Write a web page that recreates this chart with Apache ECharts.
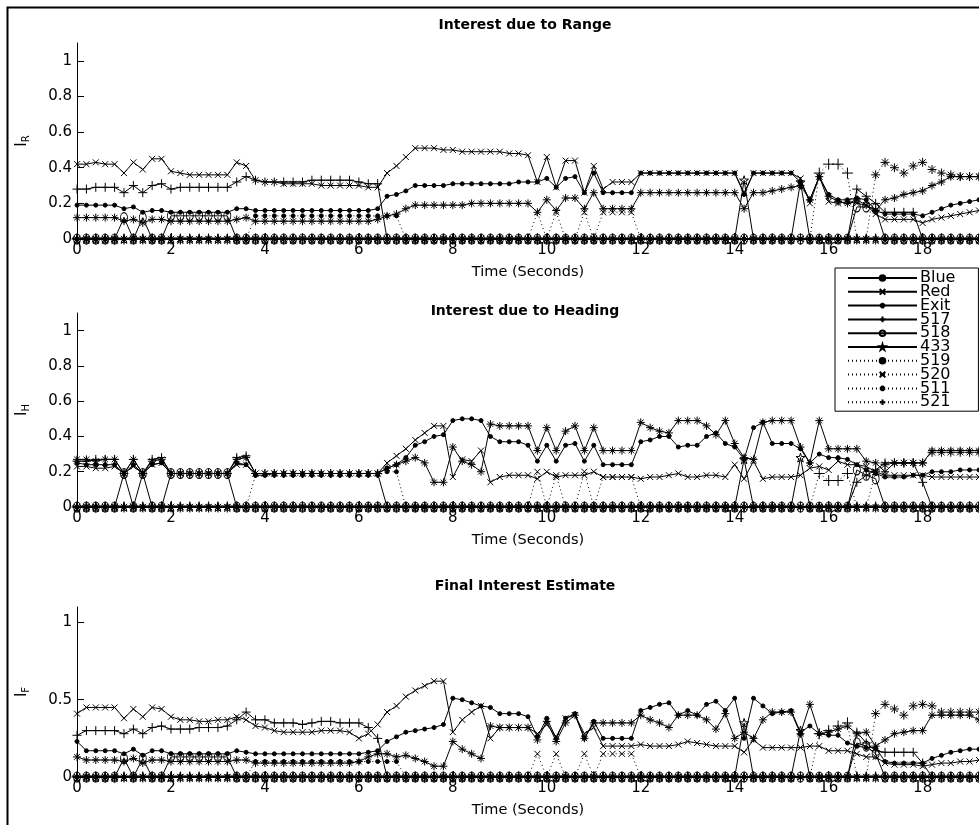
<!DOCTYPE html>
<html><head><meta charset="utf-8">
<script src="https://cdn.jsdelivr.net/npm/echarts@6/dist/echarts.min.js"></script>
<style>html,body{margin:0;padding:0;background:#fff}#c{width:979px;height:825px}</style>
</head><body><div id="c"></div>
<script>
// ---------- DATA ----------
const times = [0,0.2,0.4,0.6,0.8,1,1.2,1.4,1.6,1.8,2,2.2,2.4,2.6,2.8,3,3.2,3.4,3.6,3.8,4,4.2,4.4,4.6,4.8,5,5.2,5.4,5.6,5.8,6,6.2,6.4,6.6,6.8,7,7.2,7.4,7.6,7.8,8,8.2,8.4,8.6,8.8,9,9.2,9.4,9.6,9.8,10,10.2,10.4,10.6,10.8,11,11.2,11.4,11.6,11.8,12,12.2,12.4,12.6,12.8,13,13.2,13.4,13.6,13.8,14,14.2,14.4,14.6,14.8,15,15.2,15.4,15.6,15.8,16,16.2,16.4,16.6,16.8,17,17.2,17.4,17.6,17.8,18,18.2,18.4,18.6,18.8,19,19.2];
const seriesNames = ['Blue','Red','Exit','517','518','433','519','520','511','521'];
const panelTitles = ['Interest due to Range','Interest due to Heading','Final Interest Estimate'];
const xAxisName = 'Time (Seconds)';
const ySubscripts = ['R','H','F'];
const xTicks = [0,2,4,6,8,10,12,14,16,18];
const yTicksTop = [0,0.2,0.4,0.6,0.8,1];
const yTicksBottom = [0,0.5,1];

// Panel 1: Interest due to Range
const rangeBlue = [
.19,.19,.19,.19,.19,.17,.18,.15,.16,.16,
.15,.15,.15,.15,.15,.15,.15,.17,.17,.16,
.16,.16,.16,.16,.16,.16,.16,.16,.16,.16,
.16,.16,.17,.24,.25,.27,.30,.30,.30,.30,
.31,.31,.31,.31,.31,.31,.31,.32,.32,.32,
.34,.29,.34,.35,.26,.37,.26,.26,.26,.26,
.37,.37,.37,.37,.37,.37,.37,.37,.37,.37,
.37,.25,.37,.37,.37,.37,.37,.32,.22,.35,
.25,.22,.22,.23,.22,.16,.14,.14,.14,.14,
.13,.15,.17,.19,.20,.21,.22];
const rangeRed = [
.42,.42,.43,.42,.42,.37,.43,.39,.45,.45,
.38,.37,.36,.36,.36,.36,.36,.43,.41,.33,
.32,.32,.31,.31,.31,.31,.30,.30,.30,.30,
.30,.29,.29,.37,.41,.46,.51,.51,.51,.50,
.50,.49,.49,.49,.49,.49,.48,.48,.47,.32,
.46,.29,.44,.44,.26,.41,.28,.32,.32,.32,
.37,.37,.37,.37,.37,.37,.37,.37,.37,.37,
.37,.26,.37,.37,.37,.37,.37,.34,.20,.35,
.21,.20,.21,.20,.19,.14,.11,.11,.11,.11,
.09,.11,.12,.13,.14,.15,.16];
const rangeExit = [
.12,.12,.12,.12,.12,.10,.11,.09,.11,.11,
.10,.10,.10,.10,.10,.10,.10,.11,.12,.10,
.10,.10,.10,.10,.10,.10,.10,.10,.10,.10,
.10,.10,.11,.13,.14,.17,.19,.19,.19,.19,
.19,.19,.20,.20,.20,.20,.20,.20,.20,.15,
.22,.16,.23,.23,.17,.26,.17,.17,.17,.17,
.26,.26,.26,.26,.26,.26,.26,.26,.26,.26,
.26,.17,.26,.26,.27,.28,.29,.30,.22,.35,
.24,.21,.20,.22,.19,.16,.22,.23,.25,.26,
.27,.30,.32,.35,.35,.35,.35];
const range517 = [
.28,.28,.29,.29,.29,.26,.30,.26,.30,.31,
.28,.29,.29,.29,.29,.29,.29,.32,.35,.33,
.32,.32,.32,.32,.32,.33,.33,.33,.33,.33,
.32,.31,.31,0,0,0,0,0,0,0,
0,0,0,0,0,0,0,0,0,0,
0,0,0,0,0,0,0,0,0,0,
0,0,0,0,0,0,0,0,0,0,
0,0,0,0,0,0,0,0,0,0,
0,0,0,.28,.24,.20,.15,.15,.15,.15,
0,0,0,0,0,0,0];
const range518 = [
0,0,0,0,0,.12,0,.12,0,0,
.13,.13,.13,.13,.13,.13,.13,0,0,0,
0,0,0,0,0,0,0,0,0,0,
0,0,0,0,0,0,0,0,0,0,
0,0,0,0,0,0,0,0,0,0,
0,0,0,0,0,0,0,0,0,0,
0,0,0,0,0,0,0,0,0,0,
0,0,0,0,0,0,0,0,0,0,
0,0,0,.18,.18,.17,0,0,0,0,
0,0,0,0,0,0,0];
const range433 = [
0,0,0,0,0,0,0,0,0,0,
0,0,0,0,0,0,0,0,0,0,
0,0,0,0,0,0,0,0,0,0,
0,0,0,0,0,0,0,0,0,0,
0,0,0,0,0,0,0,0,0,0,
0,0,0,0,0,0,0,0,0,0,
0,0,0,0,0,0,0,0,0,0,
0,.33,0,0,0,0,0,.32,0,0,
0,0,0,0,0,0,0,0,0,0,
0,0,0,0,0,0,0];
const range519 = [
0,0,0,0,0,0,0,0,0,0,
0,0,0,0,0,0,0,0,0,.13,
.13,.13,.13,.13,.13,.13,.13,.13,.13,.13,
.13,.13,.13,.13,.13,0,0,0,0,0,
0,0,0,0,0,0,0,0,0,0,
0,0,0,0,0,0,0,0,0,0,
0,0,0,0,0,0,0,0,0,0,
0,0,0,0,0,0,0,0,0,0,
0,0,0,0,0,0,0,0,0,0,
0,0,0,0,0,0,0];
const range520 = [
0,0,0,0,0,0,0,0,0,0,
0,0,0,0,0,0,0,0,0,0,
0,0,0,0,0,0,0,0,0,0,
0,0,0,0,0,0,0,0,0,0,
0,0,0,0,0,0,0,0,0,.15,
0,.15,0,0,.15,0,.15,.15,.15,.15,
0,0,0,0,0,0,0,0,0,0,
0,0,0,0,0,0,0,0,0,0,
0,0,0,0,0,0,0,0,0,0,
0,0,0,0,0,0,0];
const range511 = [
0,0,0,0,0,0,0,0,0,0,
0,0,0,0,0,0,0,0,0,0,
0,0,0,0,0,0,0,0,0,0,
0,0,0,0,0,0,0,0,0,0,
0,0,0,0,0,0,0,0,0,0,
0,0,0,0,0,0,0,0,0,0,
0,0,0,0,0,0,0,0,0,0,
0,0,0,0,0,0,0,0,0,0,
0,0,0,0,0,.36,.43,.40,.37,.41,
.43,.39,.37,.36,.35,.35,.35];
const range521 = [
0,0,0,0,0,0,0,0,0,0,
0,0,0,0,0,0,0,0,0,0,
0,0,0,0,0,0,0,0,0,0,
0,0,0,0,0,0,0,0,0,0,
0,0,0,0,0,0,0,0,0,0,
0,0,0,0,0,0,0,0,0,0,
0,0,0,0,0,0,0,0,0,0,
0,0,0,0,0,0,0,0,0,.37,
.42,.42,.37,0,0,0,0,0,0,0,
0,0,0,0,0,0,0];

// Panel 2: Interest due to Heading
const headBlue = [
.25,.24,.24,.24,.24,.19,.24,.19,.24,.25,
.19,.19,.19,.19,.19,.19,.19,.25,.24,.18,
.18,.19,.19,.19,.19,.19,.19,.19,.19,.19,
.19,.19,.19,.22,.24,.28,.35,.37,.40,.41,
.49,.50,.50,.49,.40,.37,.37,.37,.35,.26,
.35,.26,.35,.36,.26,.35,.24,.24,.24,.24,
.37,.38,.40,.40,.34,.35,.35,.40,.42,.36,
.34,.27,.45,.48,.36,.36,.36,.33,.25,.30,
.28,.28,.27,.24,.21,.19,.17,.17,.17,.18,
.18,.20,.20,.20,.21,.21,.21];
const headRed = [
.23,.23,.22,.22,.23,.19,.23,.19,.24,.25,
.19,.19,.19,.19,.19,.19,.19,.24,.24,.19,
.19,.19,.19,.19,.19,.19,.19,.19,.19,.19,
.19,.19,.19,.25,.29,.33,.38,.42,.46,.46,
.17,.27,.26,.32,.14,.17,.18,.18,.18,.16,
.20,.17,.18,.18,.18,.20,.17,.17,.17,.17,
.16,.17,.17,.18,.19,.17,.17,.18,.18,.17,
.24,.16,.26,.16,.17,.17,.17,.18,.22,.23,
.21,.26,.24,.24,.23,.20,.18,.18,.18,.18,
.18,.17,.17,.17,.17,.17,.17];
const headExit = [
.27,.27,.26,.27,.27,.19,.27,.19,.26,.27,
.19,.19,.19,.19,.19,.19,.19,.27,.28,.19,
.19,.19,.19,.19,.19,.19,.19,.19,.19,.19,
.19,.19,.19,.22,.24,.26,.28,.25,.14,.14,
.34,.26,.24,.20,.47,.46,.46,.46,.46,.32,
.45,.32,.43,.46,.32,.45,.32,.32,.32,.32,
.48,.45,.43,.42,.49,.49,.49,.46,.41,.49,
.36,.28,.27,.48,.49,.49,.49,.34,.25,.49,
.33,.33,.33,.33,.26,.25,.20,.25,.25,.25,
.25,.32,.32,.32,.32,.32,.32];
const head517 = [
.26,.26,.27,.27,.27,.19,.27,.19,.27,.28,
.19,.19,.19,.19,.19,.19,.19,.28,.29,.19,
.19,.19,.19,.19,.19,.19,.19,.19,.19,.19,
.19,.19,.19,0,0,0,0,0,0,0,
0,0,0,0,0,0,0,0,0,0,
0,0,0,0,0,0,0,0,0,0,
0,0,0,0,0,0,0,0,0,0,
0,0,0,0,0,0,0,0,0,0,
0,0,0,.14,.18,.21,.25,.25,.25,.25,
.14,0,0,0,0,0,0];
const head518 = [
0,0,0,0,0,.19,0,.19,0,0,
.19,.19,.19,.19,.19,.19,.19,0,0,0,
0,0,0,0,0,0,0,0,0,0,
0,0,0,0,0,0,0,0,0,0,
0,0,0,0,0,0,0,0,0,0,
0,0,0,0,0,0,0,0,0,0,
0,0,0,0,0,0,0,0,0,0,
0,0,0,0,0,0,0,0,0,0,
0,0,0,.21,.18,.16,0,0,0,0,
0,0,0,0,0,0,0];
const head433 = [
0,0,0,0,0,0,0,0,0,0,
0,0,0,0,0,0,0,0,0,0,
0,0,0,0,0,0,0,0,0,0,
0,0,0,0,0,0,0,0,0,0,
0,0,0,0,0,0,0,0,0,0,
0,0,0,0,0,0,0,0,0,0,
0,0,0,0,0,0,0,0,0,0,
0,.27,0,0,0,0,0,.28,0,0,
0,0,0,0,0,0,0,0,0,0,
0,0,0,0,0,0,0];
const head519 = [
0,0,0,0,0,0,0,0,0,0,
0,0,0,0,0,0,0,0,0,.18,
.18,.18,.18,.18,.18,.18,.18,.18,.18,.18,
.18,.18,.18,.20,.20,0,0,0,0,0,
0,0,0,0,0,0,0,0,0,0,
0,0,0,0,0,0,0,0,0,0,
0,0,0,0,0,0,0,0,0,0,
0,0,0,0,0,0,0,0,0,0,
0,0,0,0,0,0,0,0,0,0,
0,0,0,0,0,0,0];
const head520 = [
0,0,0,0,0,0,0,0,0,0,
0,0,0,0,0,0,0,0,0,0,
0,0,0,0,0,0,0,0,0,0,
0,0,0,0,0,0,0,0,0,0,
0,0,0,0,0,0,0,0,0,.20,
0,.18,0,0,.20,0,.17,.17,.17,.17,
0,0,0,0,0,0,0,0,0,0,
0,0,0,0,0,0,0,0,0,0,
0,0,0,0,0,0,0,0,0,0,
0,0,0,0,0,0,0];
const head511 = [
0,0,0,0,0,0,0,0,0,0,
0,0,0,0,0,0,0,0,0,0,
0,0,0,0,0,0,0,0,0,0,
0,0,0,0,0,0,0,0,0,0,
0,0,0,0,0,0,0,0,0,0,
0,0,0,0,0,0,0,0,0,0,
0,0,0,0,0,0,0,0,0,0,
0,0,0,0,0,0,0,0,0,0,
0,0,0,0,0,.20,.24,.25,.25,.25,
.25,.31,.31,.31,.31,.31,.31];
const head521 = [
0,0,0,0,0,0,0,0,0,0,
0,0,0,0,0,0,0,0,0,0,
0,0,0,0,0,0,0,0,0,0,
0,0,0,0,0,0,0,0,0,0,
0,0,0,0,0,0,0,0,0,0,
0,0,0,0,0,0,0,0,0,0,
0,0,0,0,0,0,0,0,0,0,
0,0,0,0,0,0,0,0,0,.19,
.15,.15,.19,0,0,0,0,0,0,0,
0,0,0,0,0,0,0];

// Panel 3: Final Interest Estimate
const finalBlue = [
.23,.17,.17,.17,.17,.15,.18,.14,.17,.17,
.15,.15,.15,.15,.15,.15,.15,.17,.16,.15,
.15,.15,.15,.15,.15,.15,.15,.15,.15,.15,
.15,.16,.17,.23,.26,.29,.30,.31,.32,.34,
.51,.50,.48,.46,.45,.41,.41,.41,.39,.26,
.38,.25,.38,.41,.25,.36,.25,.25,.25,.25,
.43,.45,.47,.48,.40,.43,.40,.47,.49,.43,
.51,.25,.51,.46,.41,.42,.43,.29,.33,.28,
.27,.27,.22,.20,.19,.19,.10,.09,.09,.09,
.09,.12,.14,.16,.17,.18,.18];
const finalRed = [
.41,.45,.45,.45,.45,.38,.44,.39,.45,.44,
.39,.37,.37,.36,.36,.37,.37,.39,.37,.33,
.32,.30,.29,.29,.29,.29,.30,.30,.30,.29,
.25,.28,.34,.42,.46,.52,.56,.59,.62,.62,
.29,.37,.42,.46,.25,.32,.32,.32,.32,.28,
.34,.26,.38,.40,.28,.32,.20,.20,.20,.20,
.21,.20,.20,.20,.21,.23,.22,.21,.20,.20,
.20,.16,.24,.19,.19,.19,.19,.19,.20,.20,
.17,.17,.17,.15,.13,.13,.09,.08,.08,.08,
.07,.08,.09,.09,.10,.10,.11];
const finalExit = [
.13,.11,.11,.11,.11,.10,.12,.09,.11,.11,
.10,.10,.10,.10,.10,.10,.10,.11,.11,.09,
.09,.09,.09,.09,.09,.09,.09,.09,.09,.09,
.10,.13,.15,.15,.13,.14,.12,.10,.07,.07,
.23,.18,.15,.12,.33,.32,.32,.32,.32,.24,
.36,.23,.35,.40,.25,.35,.35,.35,.35,.35,
.40,.37,.35,.32,.40,.40,.40,.37,.31,.41,
.25,.29,.25,.37,.42,.42,.42,.28,.47,.28,
.29,.31,.33,.28,.29,.20,.24,.28,.29,.30,
.30,.40,.40,.40,.40,.40,.37];
const final517 = [
.27,.30,.30,.30,.30,.28,.31,.28,.32,.33,
.31,.31,.31,.32,.32,.32,.33,.37,.42,.37,
.37,.35,.35,.35,.34,.35,.36,.36,.35,.35,
.35,.32,.25,0,0,0,0,0,0,0,
0,0,0,0,0,0,0,0,0,0,
0,0,0,0,0,0,0,0,0,0,
0,0,0,0,0,0,0,0,0,0,
0,0,0,0,0,0,0,0,0,0,
0,0,0,.29,.22,.17,.16,.16,.16,.16,
.09,0,0,0,0,0,0];
const final518 = [
0,0,0,0,0,.12,0,.12,0,0,
.13,.13,.13,.13,.13,.13,.13,0,0,0,
0,0,0,0,0,0,0,0,0,0,
0,0,0,0,0,0,0,0,0,0,
0,0,0,0,0,0,0,0,0,0,
0,0,0,0,0,0,0,0,0,0,
0,0,0,0,0,0,0,0,0,0,
0,0,0,0,0,0,0,0,0,0,
0,0,0,.22,.20,.15,0,0,0,0,
0,0,0,0,0,0,0];
const final433 = [
0,0,0,0,0,0,0,0,0,0,
0,0,0,0,0,0,0,0,0,0,
0,0,0,0,0,0,0,0,0,0,
0,0,0,0,0,0,0,0,0,0,
0,0,0,0,0,0,0,0,0,0,
0,0,0,0,0,0,0,0,0,0,
0,0,0,0,0,0,0,0,0,0,
0,.35,0,0,0,0,0,.30,0,0,
0,0,0,0,0,0,0,0,0,0,
0,0,0,0,0,0,0];
const final519 = [
0,0,0,0,0,0,0,0,0,0,
0,0,0,0,0,0,0,0,0,.10,
.10,.10,.10,.10,.10,.10,.10,.10,.10,.10,
.10,.10,.10,.10,.10,0,0,0,0,0,
0,0,0,0,0,0,0,0,0,0,
0,0,0,0,0,0,0,0,0,0,
0,0,0,0,0,0,0,0,0,0,
0,0,0,0,0,0,0,0,0,0,
0,0,0,0,0,0,0,0,0,0,
0,0,0,0,0,0,0];
const final520 = [
0,0,0,0,0,0,0,0,0,0,
0,0,0,0,0,0,0,0,0,0,
0,0,0,0,0,0,0,0,0,0,
0,0,0,0,0,0,0,0,0,0,
0,0,0,0,0,0,0,0,0,.15,
0,.15,0,0,.15,0,.15,.15,.15,.15,
0,0,0,0,0,0,0,0,0,0,
0,0,0,0,0,0,0,0,0,0,
0,0,0,0,0,0,0,0,0,0,
0,0,0,0,0,0,0];
const final511 = [
0,0,0,0,0,0,0,0,0,0,
0,0,0,0,0,0,0,0,0,0,
0,0,0,0,0,0,0,0,0,0,
0,0,0,0,0,0,0,0,0,0,
0,0,0,0,0,0,0,0,0,0,
0,0,0,0,0,0,0,0,0,0,
0,0,0,0,0,0,0,0,0,0,
0,0,0,0,0,0,0,0,0,0,
0,0,0,0,0,.41,.47,.44,.40,.46,
.47,.46,.42,.42,.42,.42,.42];
const final521 = [
0,0,0,0,0,0,0,0,0,0,
0,0,0,0,0,0,0,0,0,0,
0,0,0,0,0,0,0,0,0,0,
0,0,0,0,0,0,0,0,0,0,
0,0,0,0,0,0,0,0,0,0,
0,0,0,0,0,0,0,0,0,0,
0,0,0,0,0,0,0,0,0,0,
0,0,0,0,0,0,0,0,0,.28,
.30,.33,.35,0,0,0,0,0,0,0,
0,0,0,0,0,0,0];

const panelData = [
  [rangeBlue, rangeRed, rangeExit, range517, range518, range433, range519, range520, range511, range521],
  [headBlue, headRed, headExit, head517, head518, head433, head519, head520, head511, head521],
  [finalBlue, finalRed, finalExit, final517, final518, final433, final519, final520, final511, final521]
];

// ---------- STYLE ----------
const FONT = 'DejaVu Sans';
const P_X = 'path://M0,0L10,10M10,0L0,10';
const P_PLUS = 'path://M5,0L5,10M0,5L10,5';
const P_STAR = 'path://M5,0L5,10M0,5L10,5M1.5,1.5L8.5,8.5M8.5,1.5L1.5,8.5';
const P_PENT = 'path://M5,0L6.12,3.46L9.76,3.45L6.81,5.59L7.94,9.05L5,6.9L2.06,9.05L3.19,5.59L0.24,3.45L3.88,3.46Z';
const P_OVAL = 'path://M5,0C7.8,0 10,2.2 10,5C10,7.8 7.8,10 5,10C2.2,10 0,7.8 0,5C0,2.2 2.2,0 5,0Z';
const DOT = [1, 3];
const marker = [
  {symbol:'circle', size:4, dash:'solid', fill:'#000'},
  {symbol:P_X, size:6, dash:'solid', fill:'#000'},
  {symbol:P_STAR, size:8, dash:'solid', fill:'#000'},
  {symbol:P_PLUS, size:9, dash:'solid', fill:'#000'},
  {symbol:P_OVAL, size:[7,10], dash:'solid', fill:'none'},
  {symbol:P_PENT, size:9, dash:'solid', fill:'none'},
  {symbol:'circle', size:4, dash:DOT, fill:'#000'},
  {symbol:P_X, size:6, dash:DOT, fill:'#000'},
  {symbol:P_STAR, size:9, dash:DOT, fill:'#000'},
  {symbol:P_PLUS, size:11, dash:DOT, fill:'#000'}
];

const grids = [
  {left:77, right:0, top:43, height:196},
  {left:77, right:0, top:313, height:194},
  {left:77, right:0, top:607, height:170}
];
const titleTops = [18, 304, 579];

const series = [];
panelData.forEach((arrs, p) => {
  arrs.forEach((arr, k) => {
    const m = marker[k];
    series.push({
      name: seriesNames[k], type:'line', xAxisIndex:p, yAxisIndex:p,
      data: times.map((t, i) => [t, arr[i]]),
      symbol: m.symbol, symbolSize: m.size, showSymbol:true,
      clip:false, silent:true, animation:false,
      lineStyle:{color:'#000', width:1, type:m.dash},
      itemStyle:{color:m.fill, borderColor:'#000', borderWidth:1},
      emphasis:{disabled:true},
      z: 2 + (k < 3 ? 3 : 0)
    });
  });
});

const xAxes = grids.map((g, p) => ({
  type:'value', gridIndex:p, min:0, max:19.2,
  axisLine:{show:true, onZero:false, lineStyle:{color:'#000', width:1}},
  axisTick:{show:true, inside:true, length:6, customValues:xTicks, lineStyle:{color:'#000'}},
  axisLabel:{customValues:xTicks, margin:4, fontSize:15, color:'#000', fontFamily:FONT},
  splitLine:{show:false},
  name:xAxisName, nameLocation:'middle', nameGap:26,
  nameTextStyle:{fontSize:14.5, color:'#000', fontFamily:FONT}
}));
const yAxes = grids.map((g, p) => {
  const ticks = p < 2 ? yTicksTop : yTicksBottom;
  return {
    type:'value', gridIndex:p, min:0, max:1.1,
    axisLine:{show:true, onZero:false, lineStyle:{color:'#000', width:1}},
    axisTick:{show:true, inside:true, length:7, customValues:ticks, lineStyle:{color:'#000'}},
    axisLabel:{customValues:ticks, margin:5, fontSize:15, color:'#000', fontFamily:FONT},
    splitLine:{show:false},
    name:'{i|I}{s|' + ySubscripts[p] + '}', nameLocation:'middle', nameGap:46, nameRotate:90,
    nameTextStyle:{rich:{
      i:{fontSize:15, fontFamily:FONT, color:'#000', lineHeight:18},
      s:{fontSize:10, fontFamily:FONT, color:'#000', lineHeight:18, padding:[8,0,0,0]}
    }}
  };
});

const chart = echarts.init(document.getElementById('c'), null, {renderer:'canvas'});
chart.setOption({
  backgroundColor:'#fff',
  animation:false,
  textStyle:{fontFamily:FONT, color:'#000'},
  title: panelTitles.map((t, p) => ({
    text:t, left:525, top:titleTops[p], textAlign:'center', padding:0,
    textStyle:{fontSize:14, fontWeight:'bold', fontFamily:FONT, color:'#000'}
  })),
  grid: grids,
  xAxis: xAxes,
  yAxis: yAxes,
  legend: {
    data: seriesNames, orient:'vertical', left:835, top:268,
    itemWidth:69, itemHeight:7, itemGap:-2.2,
    backgroundColor:'#fff', borderColor:'#000', borderWidth:1,
    padding:[2, 23, 1, 12], selectedMode:false, z:20,
    textStyle:{fontSize:16, color:'#000', fontFamily:FONT, lineHeight:14, padding:[0,0,0,-2]}
  },
  graphic: [{
    type:'rect', left:5, top:5, silent:true, z:-1,
    shape:{width:1100, height:900},
    style:{fill:'none', stroke:'#000', lineWidth:2}
  }],
  series: series
});
</script>
</body></html>
